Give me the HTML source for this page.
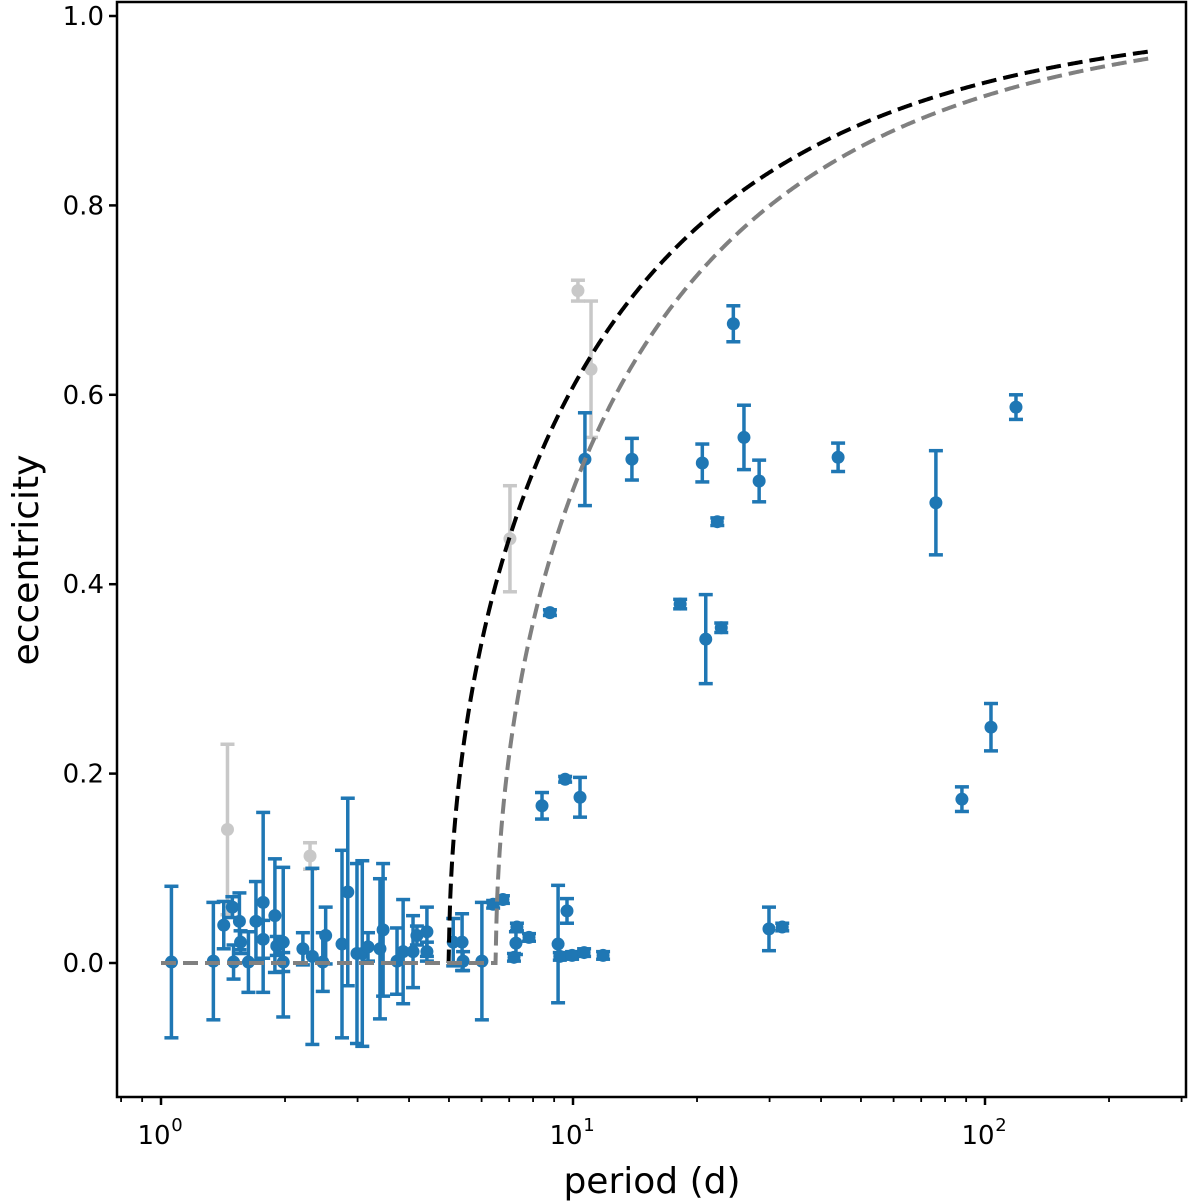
<!DOCTYPE html>
<html><head><meta charset="utf-8">
<style>
html,body{margin:0;padding:0;background:#fff;}
svg{display:block;font-family:"DejaVu Sans","Liberation Sans",sans-serif;}
</style></head>
<body>
<svg id="chart" width="1200" height="1202" viewBox="0 0 1200 1202" xmlns="http://www.w3.org/2000/svg">
<g id="plot"></g>
<g id="axes"></g>
</svg>
<script>
// ---- data ----
const bluePeriods = [1.06,1.34,1.42,1.49,1.50,1.55,1.56,1.63,1.70,1.77,1.77,1.89,1.91,1.98,1.98,2.21,2.33,2.47,2.51,2.75,2.84,2.99,3.08,3.18,3.40,3.46,3.74,3.87,4.09,4.18,4.42,4.42,5.12,5.38,5.41,6.01,6.40,6.76,7.19,7.27,7.31,7.82,8.41,8.79,9.20,9.29,9.57,9.67,9.95,10.40,10.64,10.69,11.83,13.90,18.2,20.6,21.0,22.4,22.9,24.5,26.0,28.3,29.9,32.2,44.0,76.0,87.9,103.4,118.9];
const blueEcc =     [0.001,0.002,0.040,0.059,0.001,0.044,0.022,0.001,0.044,0.064,0.025,0.050,0.018,0.022,0.001,0.015,0.007,0.001,0.029,0.020,0.075,0.010,0.010,0.017,0.015,0.035,0.002,0.012,0.012,0.029,0.033,0.012,0.022,0.022,0.002,0.002,0.062,0.067,0.006,0.021,0.038,0.027,0.166,0.370,0.020,0.007,0.194,0.055,0.008,0.175,0.011,0.532,0.008,0.532,0.379,0.528,0.342,0.466,0.354,0.675,0.555,0.509,0.036,0.038,0.534,0.486,0.173,0.249,0.587];
const blueErr =     [0.080,0.062,0.025,0.011,0.018,0.030,0.012,0.032,0.042,0.095,0.020,0.060,0.010,0.079,0.010,0.017,0.093,0.031,0.030,0.099,0.099,0.095,0.098,0.015,0.074,0.070,0.035,0.055,0.038,0.010,0.026,0.010,0.025,0.030,0.010,0.062,0.004,0.004,0.004,0.012,0.004,0.004,0.014,0.003,0.062,0.004,0.003,0.013,0.004,0.021,0.004,0.049,0.004,0.022,0.005,0.020,0.047,0.004,0.005,0.019,0.034,0.022,0.023,0.004,0.015,0.055,0.013,0.025,0.013];
const grayPeriods = [1.45,2.30,7.03,10.28,11.06];
const grayEcc =     [0.141,0.113,0.448,0.710,0.627];
const grayErr =     [0.090,0.014,0.056,0.011,0.072];
const curvePeriodStarts = [5.0, 6.5];
const xTickLabels = ["0","1","2"];
const yTicks = [0.0,0.2,0.4,0.6,0.8,1.0];

// ---- axes ----
const L=117, R=1186, T=2, B=1097;
const X0=161, DEC=412;
const Y0=963, YS=947;
const xS = p => X0 + DEC*Math.log10(p);
const yS = e => Y0 - YS*e;
const NS="http://www.w3.org/2000/svg";
function mk(tag, attrs, parent){const el=document.createElementNS(NS,tag);for(const k in attrs)el.setAttribute(k,attrs[k]);parent.appendChild(el);return el;}
const plot=document.getElementById('plot'), axes=document.getElementById('axes');

function drawSeries(P,E,Er,color,name){
  for(let i=0;i<P.length;i++){
    const g=mk('g',{},plot);
    
    
    const x=xS(P[i]), y=yS(E[i]), y1=yS(E[i]+Er[i]), y2=yS(E[i]-Er[i]);
    mk('line',{x1:x,x2:x,y1:y1,y2:y2,stroke:color,'stroke-width':3.5},g);
    mk('line',{x1:x-7,x2:x+7,y1:y1,y2:y1,stroke:color,'stroke-width':3.5},g);
    mk('line',{x1:x-7,x2:x+7,y1:y2,y2:y2,stroke:color,'stroke-width':3.5},g);
    mk('circle',{cx:x,cy:y,r:6.5,fill:color},g);
  }
}
drawSeries(grayPeriods,grayEcc,grayErr,'#c8c8c8','excluded');
drawSeries(bluePeriods,blueEcc,blueErr,'#1f77b4','planet');

const curveColors=['#000000','#808080'];
curvePeriodStarts.forEach((p0,ci)=>{
  let d='';
  for(let lp=0; lp<=Math.log10(250)+1e-9; lp+=0.002){
    const p=Math.pow(10,lp);
    const e=p<=p0?0:Math.sqrt(1-Math.pow(p0/p,2/3));
    d+=(d?'L':'M')+xS(p).toFixed(2)+','+yS(e).toFixed(2);
  }
  const pth=mk('path',{d:d,fill:'none',stroke:curveColors[ci],'stroke-width':4,'stroke-dasharray':'15,7'},plot);
  
  
});

const fr=mk('rect',{x:L,y:T,width:R-L,height:B-T,fill:'none',stroke:'#000','stroke-width':2.5},axes);



yTicks.forEach(v=>{
  const y=yS(v);
  mk('line',{x1:L-8,x2:L,y1:y,y2:y,stroke:'#000','stroke-width':2.5},axes);
  const t=mk('text',{x:L-13,y:y+9,'text-anchor':'end','font-size':26,fill:'#000'},axes);
  t.textContent=v.toFixed(1);
  
  
});
for(let dec=-1; dec<=2; dec++){
  for(let m=1;m<=9;m++){
    const p=m*Math.pow(10,dec), x=xS(p);
    if(x<L||x>R) continue;
    mk('line',{x1:x,x2:x,y1:B,y2:B+(m===1?8:5),stroke:'#000','stroke-width':m===1?2.5:1.8},axes);
  }
}
xTickLabels.forEach(s=>{
  const x=xS(Math.pow(10,+s));
  const t=mk('text',{x:x-7,y:1144,'text-anchor':'middle','font-size':26,fill:'#000'},axes);
  t.textContent='10';
  
  
  const s2=mk('text',{x:x+16,y:1131,'text-anchor':'middle','font-size':18,fill:'#000'},axes);
  s2.textContent=s;
  
  
});
const xl=mk('text',{x:652,y:1193,'text-anchor':'middle','font-size':36,fill:'#000'},axes);
xl.textContent='period (d)';


const yl=mk('text',{x:0,y:0,'text-anchor':'middle','font-size':36,fill:'#000',transform:'translate(38,560) rotate(-90)'},axes);
yl.textContent='eccentricity';


</script>
</body></html>
